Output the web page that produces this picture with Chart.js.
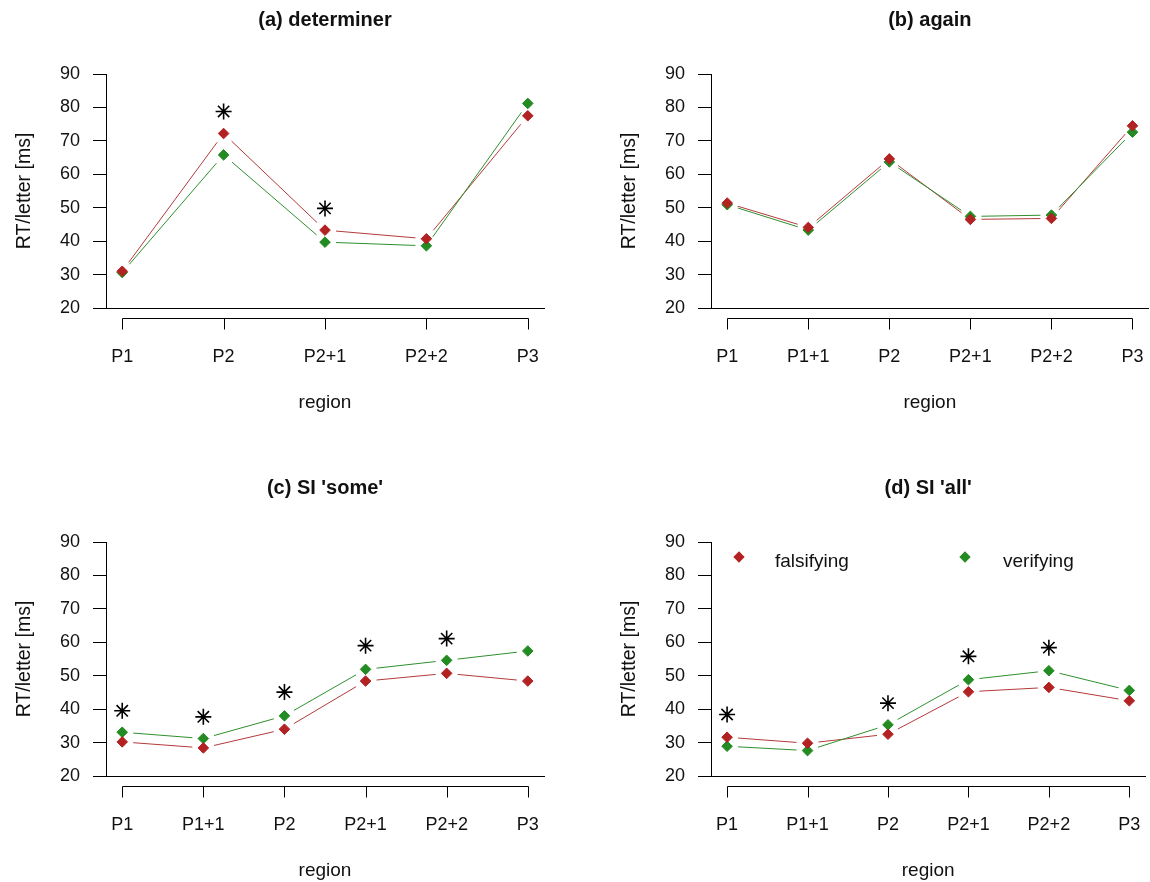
<!DOCTYPE html>
<html>
<head>
<meta charset="utf-8">
<script src="https://cdn.jsdelivr.net/npm/chart.js@4.4.1/dist/chart.umd.min.js"></script>
<style>
  body { margin: 0; background: #fff; width: 1150px; height: 882px; overflow: hidden; position: relative;
         font-family: 'Liberation Sans', Arial, sans-serif; }
  .panel { position: absolute; }
  .key { position: absolute; font-size: 19px; color: #111; line-height: 22px; }
  .dia { position: absolute; width: 8px; height: 8px; transform: rotate(45deg); }
</style>
</head>
<body>
<canvas id="chartA" class="panel" width="575" height="414" style="left:0;top:0"></canvas>
<canvas id="chartB" class="panel" width="550" height="414" style="left:605px;top:0"></canvas>
<canvas id="chartC" class="panel" width="575" height="414" style="left:0;top:468px"></canvas>
<canvas id="chartD" class="panel" width="550" height="414" style="left:605px;top:468px"></canvas>

<!-- legend of panel (d) -->
<div class="dia" style="left:735px;top:553px;background:#b22222"></div>
<div class="key" style="left:775px;top:550px">falsifying</div>
<div class="dia" style="left:961px;top:553px;background:#228b22"></div>
<div class="key" style="left:1003px;top:550px">verifying</div>

<script>
const labelsA = ['P1', 'P2', 'P2+1', 'P2+2', 'P3'];
const labelsB = ['P1', 'P1+1', 'P2', 'P2+1', 'P2+2', 'P3'];

// (a) determiner
const falsA = [31.0, 72.2, 43.3, 40.7, 77.5];
const verifA = [30.6, 65.8, 39.7, 38.6, 81.2];
const starsA = [null, 78.8, 49.8, null, null];

// (b) again
const falsB = [51.4, 44.1, 64.6, 46.5, 46.8, 74.5];
const verifB = [50.9, 43.3, 63.7, 47.4, 47.8, 72.6];
const starsB = [null, null, null, null, null, null];

// (c) SI 'some'
const falsC = [30.2, 28.4, 34.0, 48.4, 50.7, 48.4];
const verifC = [33.1, 31.2, 38.0, 51.9, 54.6, 57.4];
const starsC = [39.5, 37.7, 45.1, 59.0, 61.1, null];

// (d) SI 'all'
const falsD = [31.6, 29.8, 32.5, 45.2, 46.5, 42.5];
const verifD = [28.9, 27.6, 35.3, 48.8, 51.5, 45.6];
const starsD = [38.4, null, 41.8, 55.8, 58.4, null];

const yTicks = [20, 30, 40, 50, 60, 70, 80, 90];

const RED = '#b22222';
const GREEN = '#228b22';
const GAP = 11;

Chart.defaults.font.family = "'Liberation Sans', Arial, sans-serif";
Chart.defaults.color = '#111';

function pts(vals) {
  return vals.map((v, i) => ({ x: i + 1, y: v })).filter(p => p.y !== null);
}

// R type="b" lines: segments that stop short of each point
const gapLines = {
  id: 'gapLines',
  beforeDatasetsDraw(chart) {
    const ctx = chart.ctx;
    chart.data.datasets.forEach((ds, di) => {
      if (!ds.gapLine) return;
      const p = chart.getDatasetMeta(di).data;
      ctx.save();
      ctx.strokeStyle = ds.lineColor;
      ctx.lineWidth = 1;
      for (let i = 0; i < p.length - 1; i++) {
        const a = p[i], b = p[i + 1];
        const dx = b.x - a.x, dy = b.y - a.y, len = Math.hypot(dx, dy);
        if (len <= 2 * GAP) continue;
        const ux = dx / len, uy = dy / len;
        ctx.beginPath();
        ctx.moveTo(a.x + ux * GAP, a.y + uy * GAP);
        ctx.lineTo(b.x - ux * GAP, b.y - uy * GAP);
        ctx.stroke();
      }
      ctx.restore();
    });
  }
};

// x axis drawn a little below the plot, from first to last category
const offsetAxis = {
  id: 'offsetAxis',
  afterDraw(chart, args, opts) {
    const xs = chart.scales.x;
    const ctx = chart.ctx;
    const y0 = Math.round(chart.chartArea.bottom) + 10.5;
    ctx.save();
    ctx.strokeStyle = '#000';
    ctx.lineWidth = 1;
    ctx.beginPath();
    const x1 = Math.round(xs.getPixelForValue(1)) + 0.5;
    const xn = Math.round(xs.getPixelForValue(opts.count)) + 0.5;
    ctx.moveTo(x1, y0);
    ctx.lineTo(xn, y0);
    for (let i = 1; i <= opts.count; i++) {
      const xi = Math.round(xs.getPixelForValue(i)) + 0.5;
      ctx.moveTo(xi, y0);
      ctx.lineTo(xi, y0 + 11);
    }
    ctx.stroke();
    ctx.restore();
  }
};

function makeChart(id, title, labels, fals, verif, stars, padRight) {
  const n = labels.length;
  const pad = 0.04 * (n - 1);
  return new Chart(document.getElementById(id), {
    type: 'line',
    data: {
      datasets: [
        {
          label: 'falsifying',
          data: pts(fals),
          gapLine: true,
          lineColor: '#b33a3a',
          showLine: false,
          pointStyle: 'rectRot',
          pointRadius: 5.3,
          pointBorderWidth: 1,
          borderColor: RED,
          backgroundColor: RED
        },
        {
          label: 'verifying',
          data: pts(verif),
          gapLine: true,
          lineColor: '#2f8f2f',
          showLine: false,
          pointStyle: 'rectRot',
          pointRadius: 5.3,
          pointBorderWidth: 1,
          borderColor: GREEN,
          backgroundColor: GREEN
        },
        {
          label: 'sig',
          data: pts(stars),
          showLine: false,
          pointStyle: 'star',
          pointRadius: 8,
          pointBorderWidth: 1.6,
          borderColor: '#000',
          backgroundColor: '#000'
        }
      ]
    },
    options: {
      responsive: false,
      animation: false,
      layout: { padding: { left: 0, right: padRight, top: 0, bottom: 0 } },
      plugins: {
        legend: { display: false },
        tooltip: { enabled: false },
        title: {
          display: true,
          text: title,
          fullSize: false,
          color: '#111',
          font: { size: 20, weight: 'bold' },
          padding: { top: 8, bottom: 42 }
        },
        offsetAxis: { count: n }
      },
      scales: {
        x: {
          type: 'linear',
          min: 1 - pad,
          max: n + pad,
          afterBuildTicks: s => { s.ticks = labels.map((l, i) => ({ value: i + 1 })); },
          afterFit: s => { s.height = 106; },
          grid: { display: false, drawTicks: true, tickLength: 38 },
          border: { display: true, color: '#000', width: 1 },
          ticks: {
            padding: 0,
            autoSkip: false,
            maxRotation: 0,
            color: '#111',
            font: { size: 18 },
            callback: v => labels[v - 1]
          },
          title: {
            display: true,
            text: 'region',
            color: '#111',
            font: { size: 19 },
            padding: { top: 0, bottom: 0 }
          }
        },
        y: {
          min: 20,
          max: 90,
          afterBuildTicks: s => { s.ticks = yTicks.map(v => ({ value: v })); },
          afterFit: s => { s.width = 106; },
          grid: { drawOnChartArea: false, drawTicks: true, tickLength: 13, color: '#000' },
          border: { display: true, color: '#000', width: 1 },
          ticks: { padding: 13, color: '#111', font: { size: 18 } },
          title: {
            display: true,
            text: 'RT/letter [ms]',
            color: '#111',
            font: { size: 19.5 },
            padding: { top: 13, bottom: 0 }
          }
        }
      }
    },
    plugins: [gapLines, offsetAxis]
  });
}

makeChart('chartA', '(a) determiner', labelsA, falsA, verifA, starsA, 31);
makeChart('chartB', '(b) again', labelsB, falsB, verifB, starsB, 2);
makeChart('chartC', "(c) SI 'some'", labelsB, falsC, verifC, starsC, 31);
makeChart('chartD', "(d) SI 'all'", labelsB, falsD, verifD, starsD, 2);
</script>
</body>
</html>
